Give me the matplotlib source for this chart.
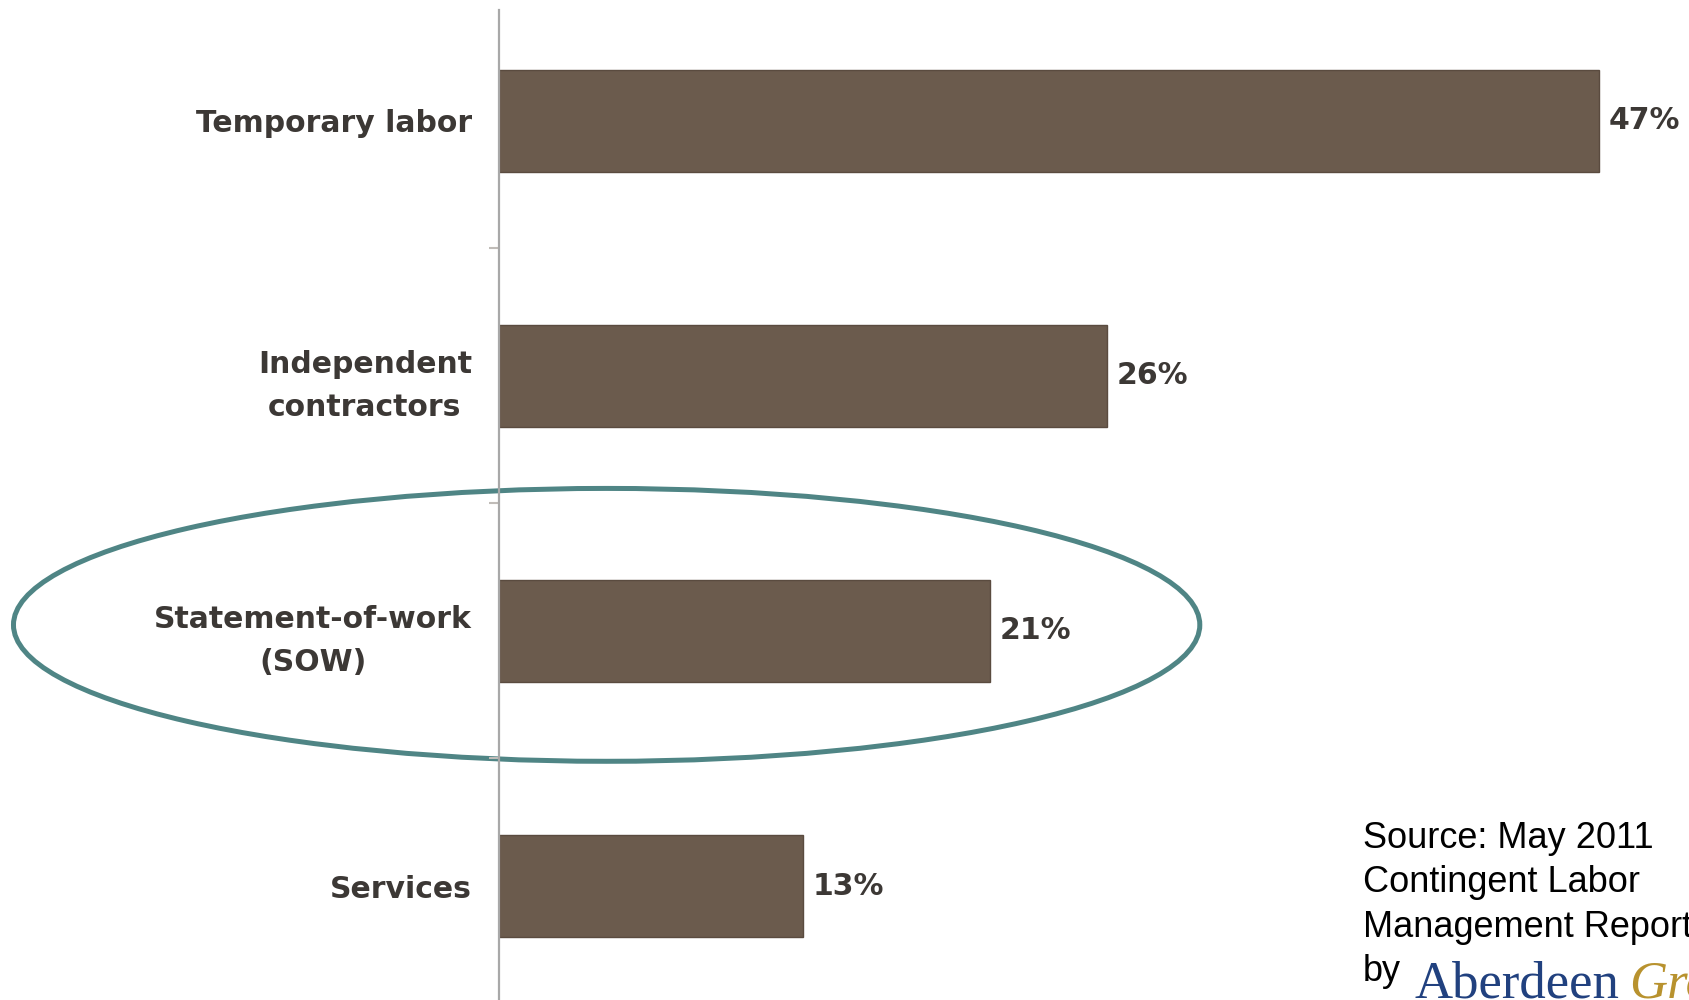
"""Contingent labor bar chart."""
import matplotlib
matplotlib.use('Agg')
import matplotlib.pyplot as plt
from matplotlib.patches import Ellipse

categories = [
    'Temporary labor',
    'Independent\ncontractors',
    'Statement-of-work\n(SOW)',
    'Services',
]
values = [47, 26, 21, 13]
highlight_index = 2
source_lines = ['Source: May 2011', 'Contingent Labor', 'Management Report']

W, H = 1690, 1000
bar_color = '#6b5b4d'
text_color = '#3c3835'

fig = plt.figure(figsize=(W / 100, H / 100), dpi=100)
ax = fig.add_axes([499 / W, 0.0, 1 - 499 / W, 0.99])

y = list(range(len(categories)))
ax.barh(y, values, height=0.40, color=bar_color,
        edgecolor='#5a4b3f', linewidth=1)

ax.set_xlim(0, 50.9)
ax.set_ylim(3.447, -0.435)

for spine in ['top', 'right', 'bottom']:
    ax.spines[spine].set_visible(False)
ax.spines['left'].set_color('#a8a8a8')
ax.spines['left'].set_linewidth(1.6)
ax.set_xticks([])

ax.set_yticks(y)
ax.set_yticklabels(categories, fontsize=21.5, fontweight='bold',
                   color=text_color, multialignment='center',
                   linespacing=1.6)
ax.tick_params(axis='y', which='major', length=0, pad=19.5)
ax.set_yticks([i + 0.5 for i in y[:-1]], minor=True)
ax.tick_params(axis='y', which='minor', length=7, width=1.5,
               color='#c0bcb8', direction='out')

for i, v in enumerate(values):
    ax.annotate(f'{v}%', xy=(v, i), xytext=(7, 0),
                textcoords='offset points', va='center', ha='left',
                fontsize=21.5, fontweight='bold', color=text_color)

# highlight ring round the SOW row
ax.add_patch(Ellipse((4.6, highlight_index - 0.024), width=50.7,
                     height=1.07, fill=False, edgecolor='#4f8585',
                     linewidth=3.6, clip_on=False))

# source note (runs off the right edge, as in the original slide)
for k, line in enumerate(source_lines):
    fig.text(1363 / W, 1 - (848 + 44.5 * k) / H, line,
             family='Liberation Sans', fontsize=26, color='black',
             va='baseline', ha='left')
fig.text(1363 / W, 1 - 981 / H, 'by', family='Liberation Sans',
         fontsize=26, color='black', va='baseline', ha='left')
fig.text(1415 / W, 1 - 998 / H, 'Aberdeen', family='Liberation Serif',
         fontsize=38, color='#21417f', va='baseline', ha='left')
fig.text(1629 / W, 1 - 998 / H, 'Group', family='Liberation Serif',
         style='italic', fontsize=38, color='#b8922e',
         va='baseline', ha='left')

plt.savefig('out.png', dpi=100)
